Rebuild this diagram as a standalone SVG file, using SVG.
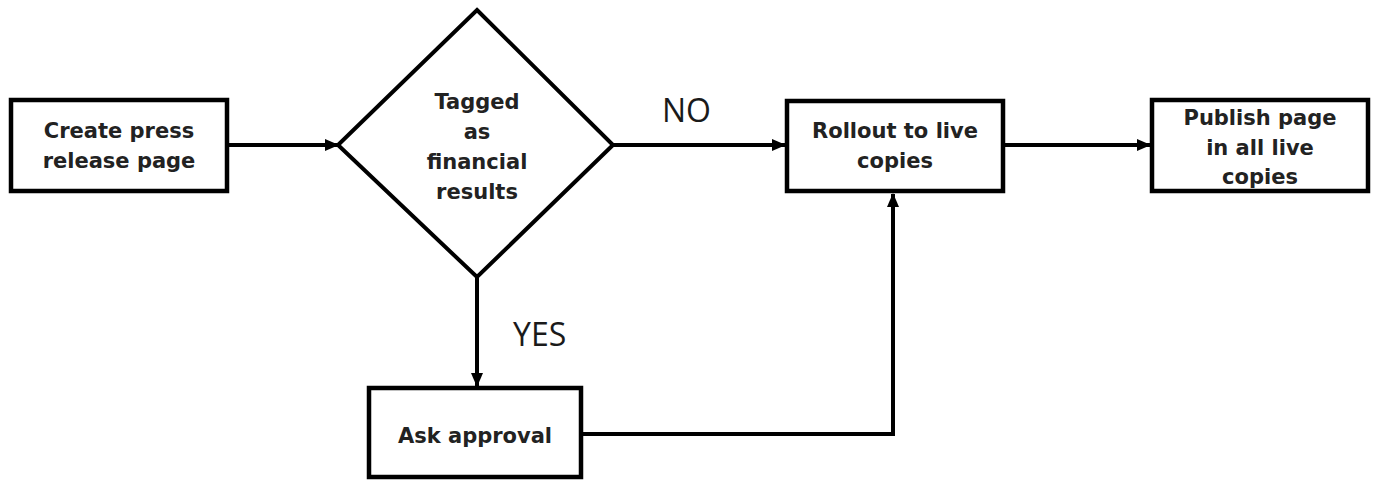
<svg xmlns="http://www.w3.org/2000/svg" width="1375" height="482" viewBox="0 0 1375 482">
  <style>
    .box { fill: #ffffff; stroke: #000000; stroke-width: 4.5; }
    .lbl { font-family: "DejaVu Sans", "Liberation Sans", sans-serif; font-weight: bold; font-size: 21px; fill: #222222; text-anchor: middle; }
    .edge { font-family: "Open Sans", "Liberation Sans", sans-serif; font-size: 32px; fill: #1a1a1a; }
    .conn { fill: none; stroke: #000000; stroke-width: 4; }
  </style>
  <defs>
    <marker id="arrow" markerUnits="userSpaceOnUse" markerWidth="14" markerHeight="12" refX="13" refY="6" orient="auto">
      <path d="M0,0 L14,6 L0,12 z" fill="#000000"/>
    </marker>
  </defs>
  <rect width="1375" height="482" fill="#ffffff"/>

  <g id="connectors">
    <path class="conn" d="M229,145 H338" marker-end="url(#arrow)"/>
    <path class="conn" d="M613,145 H785" marker-end="url(#arrow)"/>
    <path class="conn" d="M1005,145 H1150" marker-end="url(#arrow)"/>
    <path class="conn" d="M477,277 V386" marker-end="url(#arrow)"/>
    <path class="conn" d="M583,434 H893 V194" marker-end="url(#arrow)"/>
    <text class="edge" x="662" y="122">NO</text>
    <text class="edge" x="513" y="346">YES</text>
  </g>

  <g id="create">
    <rect class="box" x="11" y="100" width="216" height="91"/>
    <text class="lbl" x="119" y="138">Create press</text>
    <text class="lbl" x="119" y="168">release page</text>
  </g>

  <g id="decision">
    <polygon points="477,10 613,145 477,277 338,145" fill="#ffffff" stroke="#000000" stroke-width="4"/>
    <text class="lbl" x="477" y="109">Tagged</text>
    <text class="lbl" x="477" y="139">as</text>
    <text class="lbl" x="477" y="169">financial</text>
    <text class="lbl" x="477" y="199">results</text>
  </g>

  <g id="rollout">
    <rect class="box" x="787" y="101" width="216" height="90"/>
    <text class="lbl" x="895" y="138" textLength="166" lengthAdjust="spacingAndGlyphs">Rollout to live</text>
    <text class="lbl" x="895" y="168">copies</text>
  </g>

  <g id="publish">
    <rect class="box" x="1152" y="100" width="216" height="91"/>
    <text class="lbl" x="1260" y="125">Publish page</text>
    <text class="lbl" x="1260" y="155">in all live</text>
    <text class="lbl" x="1260" y="184">copies</text>
  </g>

  <g id="approval">
    <rect class="box" x="369" y="388" width="212" height="89"/>
    <text class="lbl" x="475" y="443" font-size="22">Ask approval</text>
  </g>
</svg>
